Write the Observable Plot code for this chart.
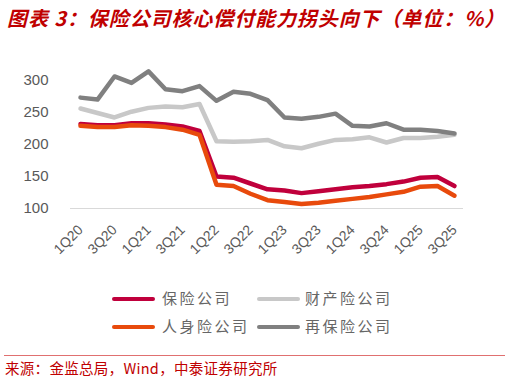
<!DOCTYPE html>
<html><head><meta charset="utf-8">
<script src="https://cdn.jsdelivr.net/npm/d3@7"></script>
<script src="https://cdn.jsdelivr.net/npm/@observablehq/plot@0.6"></script>
<style>
body{margin:0;background:#fff;width:509px;height:380px;overflow:hidden;position:relative;font-family:"Noto Sans CJK SC",sans-serif}
#title{position:absolute;left:7px;top:3px;font-size:20px;font-weight:bold;font-style:italic;color:#c00000;white-space:nowrap;letter-spacing:0.9px}
#chart{position:absolute;left:0;top:40px}
.sw{position:absolute;width:43px;height:4px;border-radius:2px}
.lt{position:absolute;font-size:15px;color:#666;letter-spacing:2.5px;white-space:nowrap;line-height:18px}
#rule{position:absolute;left:4px;top:355px;width:501px;height:0;border-top:1.5px solid #e07070}
#src{position:absolute;left:5px;top:357px;font-size:14.5px;color:#c00000;white-space:nowrap;letter-spacing:0.3px}
</style></head>
<body>
<div id="title">图表 3：保险公司核心偿付能力拐头向下（单位：%）</div>
<div id="chart"></div>
<div id="legend"></div>
<div id="rule"></div>
<div id="src">来源：金监总局，Wind，中泰证券研究所</div>
<script>
const quarters = ["1Q20","2Q20","3Q20","4Q20","1Q21","2Q21","3Q21","4Q21","1Q22","2Q22","3Q22","4Q22","1Q23","2Q23","3Q23","4Q23","1Q24","2Q24","3Q24","4Q24","1Q25","2Q25","3Q25"];
const tickLabels = ["1Q20","3Q20","1Q21","3Q21","1Q22","3Q22","1Q23","3Q23","1Q24","3Q24","1Q25","3Q25"];
const yTicks = [100,150,200,250,300];
const seriesNames = ["保险公司","财产险公司","人身险公司","再保险公司"];
const seriesColors = ["#c0003c","#c8c8c8","#e84a0c","#808080"];
const insurers = [232,230,230,233,233,231,228,221,150,148,139,130,128,124,127,130,133,135,138,142,148,149,135];
const property  = [256,249,242,251,257,259,258,263,205,204,205,207,197,194,201,207,208,211,203,210,210,212,215];
const life      = [229,227,227,230,229,227,223,215,137,135,123,113,110,107,109,112,115,118,122,126,134,135,120];
const reins     = [273,270,306,296,314,286,283,291,268,282,279,269,242,240,243,248,229,228,233,223,223,221,217];
const valuesBySeries = [insurers, property, life, reins];

const data = [];
seriesNames.forEach((s, k) => quarters.forEach((q, i) => data.push({s, q, v: valuesBySeries[k][i]})));

const chart = Plot.plot({
  width: 509, height: 235,
  marginLeft: 70, marginRight: 46, marginTop: 27, marginBottom: 67,
  style: {fontFamily: "Arial, 'Liberation Sans', sans-serif", color: "#595959", background: "transparent"},
  x: {type: "point", domain: quarters, padding: 0, label: null},
  y: {domain: [100, 320], label: null},
  color: {domain: seriesNames, range: seriesColors},
  marks: [
    Plot.ruleY([100], {stroke: "#d9d9d9", strokeWidth: 1.2}),
    Plot.line(data, {x: "q", y: "v", z: "s", stroke: "s", strokeWidth: 4.5}),
    Plot.axisY({ticks: yTicks, tickSize: 0, tickPadding: 22, fontSize: 15, label: null}),
    Plot.axisX({ticks: tickLabels, tickSize: 0, tickRotate: -45, tickPadding: 19, fontSize: 14, label: null})
  ]
});
document.getElementById("chart").appendChild(chart);

const legendPos = [[112, 297, 162], [257, 297, 305], [112, 325, 162], [257, 325, 305]];
const lg = document.getElementById("legend");
seriesNames.forEach((s, k) => {
  const [x, y, tx] = legendPos[k];
  const sw = document.createElement("div");
  sw.className = "sw"; sw.style.left = x + "px"; sw.style.top = (y) + "px"; sw.style.background = seriesColors[k];
  lg.appendChild(sw);
  const t = document.createElement("div");
  t.className = "lt"; t.style.left = tx + "px"; t.style.top = (y - 8) + "px"; t.textContent = s;
  lg.appendChild(t);
});
</script>
</body></html>
